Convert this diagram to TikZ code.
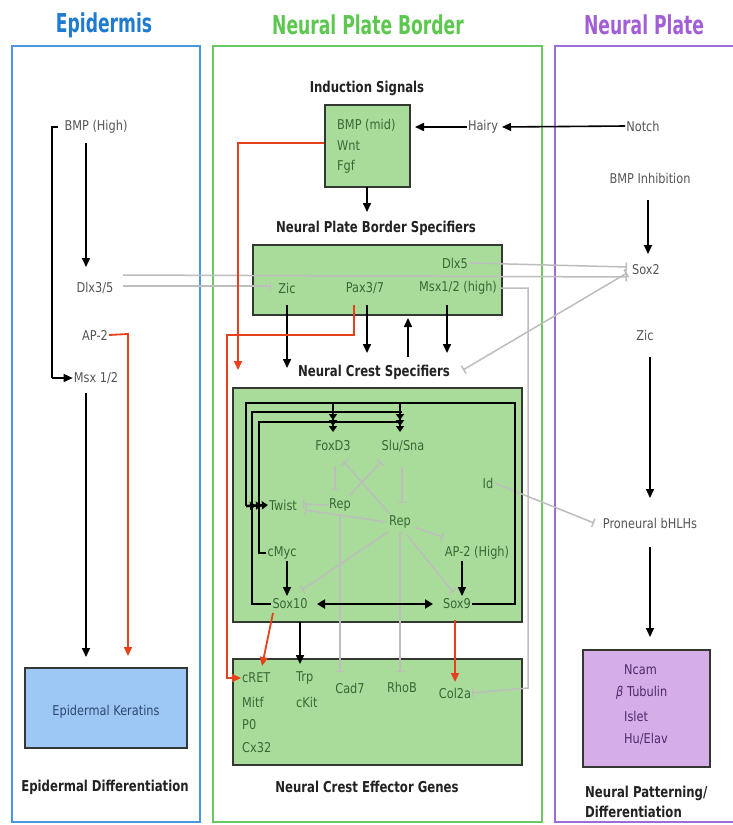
\documentclass[tikz,border=0pt]{standalone}
\usepackage{fontspec}
\setmainfont{DejaVu Sans}[FakeStretch=0.84]
\newfontfamily\titlefont{DejaVu Sans}[FakeStretch=0.66]
\newfontfamily\labfont{DejaVu Sans}[FakeStretch=0.78]
\usetikzlibrary{arrows.meta,calc}
\definecolor{epiblue}{HTML}{4A97E0}
\definecolor{npbgreen}{HTML}{6CC860}
\definecolor{nppurple}{HTML}{9E6BDB}
\definecolor{ttlblue}{HTML}{1E7BD0}
\definecolor{ttlgreen}{HTML}{5DC84F}
\definecolor{ttlpurple}{HTML}{A25ED6}
\definecolor{gfill}{HTML}{A9DC9B}
\definecolor{bfill}{HTML}{9DC8F5}
\definecolor{pfill}{HTML}{D5AEE8}
\definecolor{boxline}{HTML}{333833}
\definecolor{txtgray}{HTML}{555555}
\definecolor{txtgreen}{HTML}{3A6636}
\definecolor{txtblue}{HTML}{2C4770}
\definecolor{txtpurple}{HTML}{4B2A6B}
\definecolor{labcol}{HTML}{222222}
\definecolor{redc}{HTML}{E8401C}
\definecolor{grayc}{HTML}{BDBDBD}
\tikzset{
 txt/.style={font=\fontsize{13.5}{15}\selectfont, text=txtgray, inner sep=1pt},
 gtxt/.style={txt, text=txtgreen},
 lab/.style={font=\labfont\bfseries\fontsize{15}{17}\selectfont, text=labcol, inner sep=1pt},
 ttl/.style={font=\titlefont\bfseries\fontsize{26}{28}\selectfont, inner sep=1pt},
 panel/.style={line width=2pt},
 box/.style={draw=boxline, line width=2.5pt, inner sep=0pt},
 arr/.style={draw=black, line width=1.6pt, -{Triangle[length=9pt,width=8pt]}},
 redarr/.style={draw=redc, line width=1.8pt, -{Triangle[length=9pt,width=8pt]}},
 inh/.style={draw=grayc, line width=1.5pt, -{Bar[width=9pt]}},
 loopln/.style={draw=black, line width=2.6pt},
 triple/.style={-{Triangle[length=6pt,width=8pt]Triangle[length=6pt,width=8pt]Triangle[length=6pt,width=8pt]}}
}
\begin{document}
\begin{tikzpicture}[x=1pt,y=-1pt]
\useasboundingbox (0,0) rectangle (733,825);
\fill[white] (0,0) rectangle (733,825);

% panels
\draw[panel, epiblue] (12,46) rectangle (200,822);
\draw[panel, npbgreen] (213,46) rectangle (542,822);
\draw[panel, nppurple] (737,46) -- (555,46) -- (555,822) -- (737,822);
\node[ttl, text=ttlblue] (tepi) at (104,25) {Epidermis};
\node[ttl, text=ttlgreen] (tnpb) at (368,25) {Neural Plate Border};
\node[ttl, text=ttlpurple] (tnp) at (644,25) {Neural Plate};

% ---------- Epidermis ----------
\node[txt] (bmphigh) at (96,127) {BMP (High)};
\node[txt] (dlx35) at (95,288) {Dlx3/5};
\node[txt] (ap2) at (95,335) {AP-2};
\node[txt] (msx12) at (96,378) {Msx 1/2};
\node[box, fill=bfill, minimum width=162pt, minimum height=80pt] (ker) at (106,708) {};
\node[txt, text=txtblue] (kertxt) at (106,712) {Epidermal Keratins};
\node[lab] (epidiff) at (105,787) {Epidermal Differentiation};

\draw[arr] (86,143) -- (86,267);
\draw[arr] (86,393) -- (86,657);
\draw[line width=1.6pt] (58,127) -- (52,127) -- (52,378);
\draw[arr] (52,378) -- (msx12.west);
\draw[redarr] (ap2.east) -- (128,334) -- (128,656);

% ---------- Neural plate border ----------
\node[lab] (indlab) at (367,88) {Induction Signals};
\node[box, fill=gfill, minimum width=85pt, minimum height=82pt] (ind) at (367.5,146) {};
\node[gtxt, anchor=west] (bmpmid) at (336,125) {BMP (mid)};
\node[gtxt, anchor=west] (wnt) at (336,146) {Wnt};
\node[gtxt, anchor=west] (fgf) at (336,167) {Fgf};
\node[txt] (hairy) at (483,127) {Hairy};
\node[txt] (notch) at (643,126) {Notch};
\draw[arr] (hairy.west) -- (415,127);
\draw[arr] (notch.west) -- (502,127);
\draw[arr] (367,187) -- (367,212);

\node[lab] (npbslab) at (376,228) {Neural Plate Border Specifiers};
\node[box, fill=gfill, minimum width=249pt, minimum height=70pt] (npbs) at (377.5,280) {};
\node[gtxt] (dlx5) at (455,263) {Dlx5};
\node[gtxt] (zic) at (287,288) {Zic};
\node[gtxt] (pax) at (365,288) {Pax3/7};
\node[gtxt] (msxh) at (458,288) {Msx1/2 (high)};

\node[lab] (ncslab) at (374,372) {Neural Crest Specifiers};
\draw[arr] (287,305) -- (287,368);
\draw[arr] (367,305) -- (367,353);
\draw[arr] (408,357) -- (408,318);
\draw[arr] (447,305) -- (447,353);

% neural crest box
\node[box, fill=gfill, minimum width=289pt, minimum height=234pt] (ncs) at (377.5,505) {};
\node[gtxt] (foxd3) at (333,446) {FoxD3};
\node[gtxt] (slusna) at (403,446) {Slu/Sna};
\node[gtxt] (twist) at (283,505) {Twist};
\node[gtxt] (rep1) at (340,505) {Rep};
\node[gtxt] (rep2) at (400,522) {Rep};
\node[gtxt] (id) at (488,483) {Id};
\node[gtxt] (cmyc) at (282,553) {cMyc};
\node[gtxt] (ap2h) at (477,553) {AP-2 (High)};
\node[gtxt] (sox10) at (290,604) {Sox10};
\node[gtxt] (sox9) at (457,604) {Sox9};

% effector box
\node[box, fill=gfill, minimum width=289pt, minimum height=106pt] (eff) at (377.5,712) {};
\node[gtxt, anchor=west] (cret) at (241,678) {cRET};
\node[gtxt, anchor=west] (mitf) at (241,702) {Mitf};
\node[gtxt, anchor=west] (p0) at (241,725) {P0};
\node[gtxt, anchor=west] (cx32) at (241,748) {Cx32};
\node[gtxt, anchor=west] (trp) at (295,678) {Trp};
\node[gtxt, anchor=west] (ckit) at (295,702) {cKit};
\node[gtxt] (cad7) at (350,688) {Cad7};
\node[gtxt] (rhob) at (402,687) {RhoB};
\node[gtxt] (col2a) at (455,693) {Col2a};
\node[lab] (efflab) at (367,787) {Neural Crest Effector Genes};

% ---------- Neural plate ----------
\node[txt] (bmpinh) at (650,178) {BMP Inhibition};
\node[txt] (sox2) at (646,270) {Sox2};
\node[txt] (zicnp) at (645,335) {Zic};
\node[txt] (prone) at (650,523) {Proneural bHLHs};
\node[box, fill=pfill, minimum width=127pt, minimum height=117pt] (pur) at (646.5,708.5) {};
\node[txt, text=txtpurple, anchor=west] (ncam) at (623,670) {Ncam};
\node[txt, text=txtpurple, anchor=west] (btub) at (615,693) {\textit{β} Tubulin};
\node[txt, text=txtpurple, anchor=west] (islet) at (623,716) {Islet};
\node[txt, text=txtpurple, anchor=west] (huelav) at (623,739) {Hu/Elav};
\node[lab, anchor=west] (nplab1) at (584,793) {Neural Patterning/};
\node[lab, anchor=west] (nplab2) at (584,812) {Differentiation};
\draw[arr] (648,200) -- (648,254);
\draw[arr] (650,357) -- (650,498);
\draw[arr] (650,547) -- (650,637);

% ---------- grey inhibitions ----------
\draw[inh] (123,275) -- (627,277);
\draw[inh] (123,286) -- (271,286);
\draw[inh] (dlx5.east) -- (627,267);
\draw[draw=grayc, line width=1.5pt, {Bar[width=9pt]}-{Bar[width=9pt]}] (463,370) -- (627,273);
\draw[inh] (msxh.east) -- (528,288) -- (528,688) -- (col2a.east);
\draw[inh] (id.east) -- (594,523);
\draw[inh] (335,466) -- (335,490);
\draw[inh] (402,467) -- (402,503);
\draw[inh] (rep1.west) -- (303,504);
\draw[inh] (350,495) -- (381,462);
\draw[inh] (390,514) -- (344,462);
\draw[inh] (386,522) -- (305,510);
\draw[inh] (414,527) -- (443,537);
\draw[inh] (388,532) -- (302,590);
\draw[inh] (407,535) -- (453,592);
\draw[inh] (340,515) -- (340,672);
\draw[inh] (400,532) -- (400,672);

% ---------- neural crest loops ----------
\draw[loopln] (sox9.east) -- (515,604) -- (515,403) -- (246,403) -- (246,506);
\draw[loopln] (sox10.west) -- (252,604) -- (252,412) -- (402,412);
\draw[loopln] (cmyc.west) -- (259,553) -- (259,422) -- (402,422);
\draw[loopln, triple] (246,506) -- (twist.west);
\draw[loopln, triple] (333,403) -- (333,432);
\draw[loopln, triple] (400,403) -- (400,432);
\draw[arr] (287,561) -- (287,596);
\draw[arr] (462,561) -- (462,596);
\draw[line width=2.4pt, {Triangle[length=8pt,width=9pt]}-{Triangle[length=8pt,width=9pt]}] (317,604) -- (433,604);

% effector arrows
\draw[redarr] (273,613) -- (262,666);
\draw[arr] (300,622) -- (300,664);
\draw[redarr] (455,620) -- (455,682);

% red long lines
\draw[redarr] (ind.west |- 0,143) -- (238,143) -- (238,370);
\draw[redarr] (354,305) -- (354,335) -- (227,335) -- (227,678) -- (cret.west);
\end{tikzpicture}
\end{document}
